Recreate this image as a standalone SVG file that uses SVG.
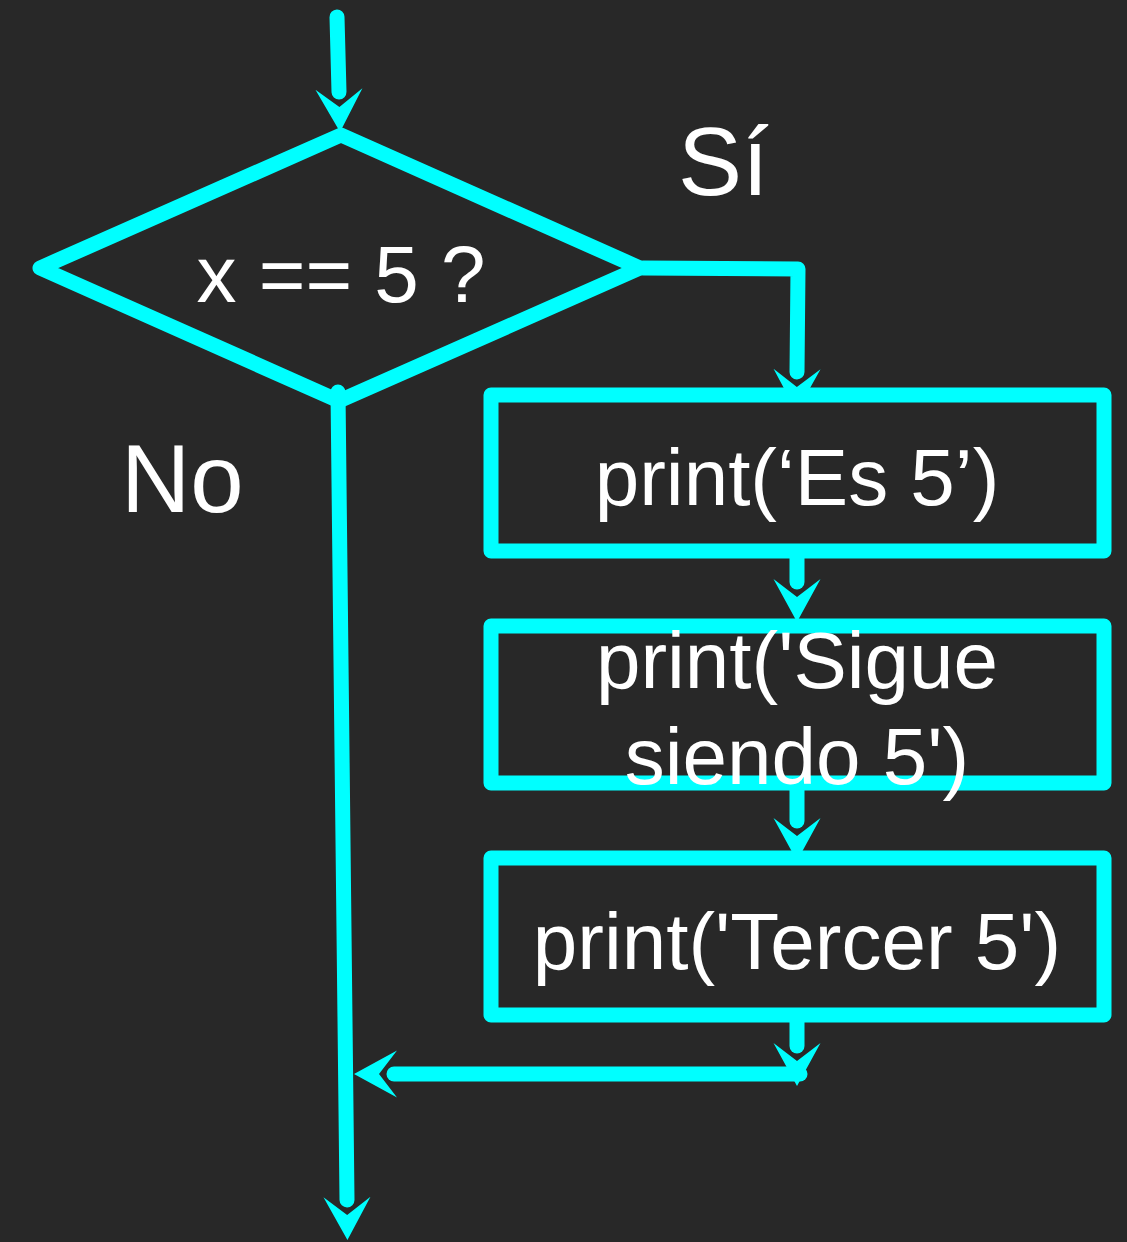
<svg xmlns="http://www.w3.org/2000/svg" width="1127" height="1242" viewBox="0 0 1127 1242">
  <style>
    .ln { fill: none; stroke: #00FFFF; stroke-width: 15; stroke-linecap: round; stroke-linejoin: round; marker-end: url(#arr); }
    .box { fill: #282828; stroke: #00FFFF; stroke-width: 15; stroke-linejoin: round; }
    .dia { fill: none; stroke: #00FFFF; stroke-width: 15; stroke-linejoin: round; }
    .t { font-family: "Liberation Sans", Arial, sans-serif; font-size: 80px; fill: #FFFFFF; text-anchor: middle; }
    .lbl { font-family: "Liberation Sans", Arial, sans-serif; font-size: 96px; fill: #FFFFFF; }
  </style>
  <defs>
    <marker id="arr" markerUnits="userSpaceOnUse" orient="auto" refX="0" refY="0" markerWidth="100" markerHeight="100" overflow="visible">
      <path d="M40,0 L-3,-23.5 L15,0 L-3,23.5 Z" fill="#00FFFF"/>
    </marker>
  </defs>
  <rect x="0" y="0" width="1127" height="1242" fill="#282828"/>

  <g id="connectors">
    <path class="ln" d="M337,17 L339,92"/>
    <path class="ln" d="M643,268 L798,269 L797,372"/>
    <path class="ln" d="M797,551 L797,582"/>
    <path class="ln" d="M797,783 L797,821"/>
    <path class="ln" d="M797,1015 L797,1046"/>
    <path class="ln" d="M800,1074 L394,1074"/>
    <path class="ln" d="M338,392 L347,1200"/>
  </g>

  <g id="decision">
    <polygon class="dia" points="341,135 640,268 339,401 40,268"/>
    <text class="t" x="341" y="302">x == 5 ?</text>
  </g>

  <g id="box1">
    <rect class="box" x="491" y="395" width="613" height="156"/>
    <text class="t" x="797" y="505">print(‘Es 5’)</text>
  </g>

  <g id="box2">
    <rect class="box" x="491" y="626" width="613" height="157"/>
    <text class="t" x="797" y="688">print('Sigue</text>
    <text class="t" x="797" y="784">siendo 5')</text>
  </g>

  <g id="box3">
    <rect class="box" x="491" y="858" width="613" height="157"/>
    <text class="t" x="797" y="969">print('Tercer 5')</text>
  </g>

  <g id="labels">
    <text class="lbl" x="678" y="195">Sí</text>
    <text class="lbl" x="121" y="512">No</text>
  </g>
</svg>
